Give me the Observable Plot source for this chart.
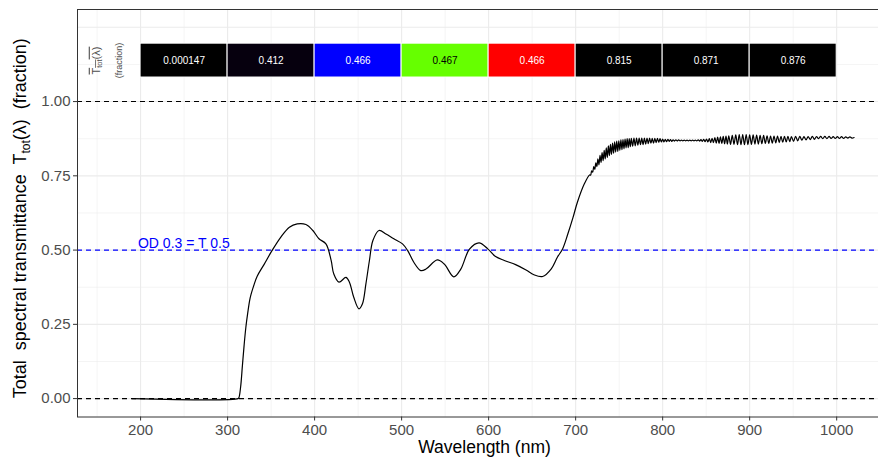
<!DOCTYPE html>
<html><head><meta charset="utf-8">
<script src="https://cdn.jsdelivr.net/npm/d3@7"></script>
<script src="https://cdn.jsdelivr.net/npm/@observablehq/plot@0.6"></script>
<style>
body{margin:0;background:#fff;overflow:hidden;}
svg{font-family:"Liberation Sans",Arial,Helvetica,sans-serif;}
</style></head><body><div id="chart"></div>
<script>
// ---- spectrum (smooth part) ----
const smoothWavelength = [190,312,313,315,317,319,321,323,326,330,
  334,342,351,361,371,380,390,398,405,413,
  419,422,428,436,440,445,451,455,459,463,
  467,474,482,491,501,507,514,522,528,541,
  549,560,568,578,589,599,608,618,631,643,
  652,662,672,679,685,691,697,702,710];
const smoothTransmittance = [0,0,0.003,0.04,0.11,0.18,0.24,0.285,0.34,0.38,
  0.412,0.452,0.498,0.543,0.577,0.588,0.586,0.566,0.538,0.521,
  0.465,0.42,0.392,0.408,0.392,0.341,0.302,0.319,0.387,0.465,
  0.532,0.566,0.554,0.538,0.521,0.498,0.459,0.431,0.436,0.467,
  0.453,0.41,0.436,0.503,0.524,0.504,0.478,0.465,0.451,0.433,
  0.417,0.411,0.437,0.476,0.504,0.554,0.61,0.661,0.723];
// ---- spectrum (interference-fringe part, read as alternating crests/troughs) ----
const rippleWavelength = [
  716,717.2,718.4,719.6,720.8,722,723.2,724.4,725.6,726.8,
  728,729.2,730.4,731.6,732.8,734,735.2,736.4,737.6,738.8,
  740,741.2,742.4,743.6,744.8,746,747.2,748.4,749.6,750.8,
  752,753.2,754.4,755.6,756.8,758,759.2,760.4,761.6,762.8,
  764,765.5,767,768.5,770,771.5,773,774.5,776,777.5,
  779,780.5,782,783.5,785,786.5,788,789.5,791,792.5,
  794,795.5,797,798.5,800,801.5,803,804.5,806,807.5,
  809,810.5,812,813.6,815.2,816.8,818.4,820,821.6,823.2,
  824.8,826.4,828,829.6,831.2,832.8,834.4,836,837.6,839.2,
  840.8,842.4,844,845.6,847.2,848.8,850.4,852,853.6,855.2,
  856.8,858.4,860,861.6,863.2,864.8,866.4,868,869.6,871.2,
  872.8,874.4,876,878,880,882,884,886,888,890,
  892,894,896,898,900,902,904,906,908,910,
  912,914,916,918,920,922,924,926,928,930,
  932,934,936,938,940,942,944,946,948,950.4,
  952.8,955.2,957.6,960,962.4,964.8,967.2,969.6,972,974.4,
  976.8,979.2,981.6,984,986.4,988.8,991.2,993.6,996,998.4,
  1000.8,1003.2,1005.6,1008,1010.4,1012.8,1015.2,1017.6,1020];
const rippleTransmittance = [
  .753,.752,.767,.762,.781,.772,.794,.781,.807,.787,
  .819,.795,.828,.801,.836,.807,.844,.812,.851,.818,
  .856,.822,.860,.826,.864,.830,.867,.832,.868,.836,
  .871,.838,.872,.841,.874,.844,.875,.845,.875,.848,
  .876,.850,.877,.851,.877,.853,.877,.855,.877,.855,
  .877,.857,.877,.858,.877,.860,.876,.860,.876,.862,
  .876,.863,.875,.864,.874,.864,.873,.865,.873,.866,
  .872,.866,.871,.867,.871,.867,.871,.868,.870,.868,
  .870,.868,.870,.868,.870,.868,.870,.868,.870,.868,
  .871,.867,.872,.866,.873,.865,.874,.864,.875,.862,
  .876,.862,.879,.860,.880,.859,.881,.859,.883,.858,
  .884,.857,.885,.856,.886,.856,.888,.855,.889,.855,
  .889,.855,.889,.855,.888,.856,.888,.857,.887,.857,
  .886,.858,.886,.859,.885,.859,.884,.860,.884,.861,
  .884,.862,.883,.863,.883,.864,.883,.865,.882,.866,
  .883,.868,.883,.870,.882,.871,.882,.872,.883,.873,
  .882,.875,.883,.875,.883,.875,.883,.876,.882,.876,
  .882,.876,.882,.876,.881,.877,.881,.877,.879];
// ---- waveband summaries ----
const bandStart = [200,300,400,500,600,700,800,900];
const bandEnd   = [300,400,500,600,700,800,900,1000];
const bandMean  = ["0.000147","0.412","0.466","0.467","0.466","0.815","0.871","0.876"];
const bandFill  = ["#000000","#06000E","#0000FF","#66FF00","#FF0000","#000000","#000000","#000000"];
const bandTextColor = ["#FFFFFF","#FFFFFF","#FFFFFF","#000000","#FFFFFF","#FFFFFF","#FFFFFF","#FFFFFF"];
// ---- axes / guides ----
const xTicks = [200,300,400,500,600,700,800,900,1000];
const xMinor = [150,250,350,450,550,650,750,850,950,1050];
const yTicks = [0,0.25,0.5,0.75,1];
const yGridExtra = [1.25];
const yMinor = [0.125,0.375,0.625,0.875,1.125];
const refLines = [0,1];
const odLine = [0.5];
const odLabel = ["OD 0.3 = T 0.5"];
const odLabelX = [197];
const bandLabelY = 1.138;
const bandKeyX = [149, 175];

const spectrum = smoothWavelength.map((w,i)=>({w, t: smoothTransmittance[i]}))
  .concat(rippleWavelength.map((w,i)=>({w, t: rippleTransmittance[i]})));
const bands = bandStart.map((s,i)=>({x1:s, x2:bandEnd[i], xm:(s+bandEnd[i])/2, label:bandMean[i], fill:bandFill[i], tc:bandTextColor[i]}));

const chart = Plot.plot({
  width: 878, height: 465,
  marginLeft: 77, marginRight: -13, marginTop: 9, marginBottom: 48.5,
  x: {domain: [127.5, 1063]},
  y: {domain: [-0.062, 1.31]},
  color: {type: "identity"},
  style: {fontFamily: "'Liberation Sans', Arial, sans-serif", fontSize: "15px", color: "#4D4D4D", background: "white", overflow: "hidden"},
  marks: [
    Plot.ruleX(xMinor, {stroke: "#EBEBEB", strokeWidth: 0.55}),
    Plot.ruleY(yMinor, {stroke: "#EBEBEB", strokeWidth: 0.55}),
    Plot.ruleX(xTicks, {stroke: "#EBEBEB", strokeWidth: 1.1}),
    Plot.ruleY(yTicks.concat(yGridExtra), {stroke: "#EBEBEB", strokeWidth: 1.1}),
    Plot.rect(bands, {x1: "x1", x2: "x2", y1: 1.081, y2: 1.195, fill: "fill", stroke: "white", strokeWidth: 1}),
    Plot.text(bands, {x: "xm", y: bandLabelY, text: "label", fill: "tc", fontSize: 10}),
    Plot.text(["T"], {x: bandKeyX[0], y: bandLabelY, rotate: -90, fontSize: 11, fill: "#4D4D4D", className: "tkey"}),
    Plot.text(["(fraction)"], {x: bandKeyX[1], y: bandLabelY, rotate: -90, fontSize: 9, fill: "#4D4D4D"}),
    Plot.ruleY(refLines, {stroke: "black", strokeDasharray: "5,4", strokeWidth: 1.1}),
    Plot.ruleY(odLine, {stroke: "blue", strokeDasharray: "5,4", strokeWidth: 1.1}),
    Plot.text(odLabel, {x: odLabelX, y: odLine, text: d => d, textAnchor: "start", lineAnchor: "bottom", dy: -2, fill: "blue", fontSize: 14}),
    Plot.line(spectrum, {x: "w", y: "t", curve: "catmull-rom", stroke: "black", strokeWidth: 1.2}),
    Plot.frame({stroke: "#333333", strokeWidth: 1}),
    Plot.axisX(xTicks, {tickSize: 4, tickPadding: 3, label: null, fontSize: 15, tickFormat: d3.format("d"), stroke: "#333333"}),
    Plot.axisY(yTicks, {tickSize: 4, tickPadding: 3, label: null, fontSize: 15, tickFormat: d3.format(".2f"), stroke: "#333333"}),
    Plot.text(["Wavelength (nm)"], {frameAnchor: "bottom", dy: 36, fontSize: 17.5, fill: "black"}),
    Plot.text(["Y"], {frameAnchor: "left", textAnchor: "middle", dx: -57, dy: 5, rotate: -90, fontSize: 18, fill: "black", className: "ylab"})
  ]
});
document.getElementById("chart").appendChild(chart);

const NS = "http://www.w3.org/2000/svg";
function rich(el, parts) {
  el.textContent = "";
  el.style.whiteSpace = "pre";
  parts.forEach(p => {
    const ts = document.createElementNS(NS, "tspan");
    ts.textContent = p.t;
    if (p.size) ts.setAttribute("font-size", p.size);
    if (p.dy) ts.setAttribute("dy", p.dy);
    el.appendChild(ts);
  });
}
d3.select(chart).selectAll("g.ylab text").each(function() {
  rich(this, [{t: "Total  spectral transmittance  T"}, {t: "tot", size: 12, dy: 4}, {t: "(λ)  (fraction)", size: 18, dy: -4}]);
});
d3.select(chart).selectAll("g.tkey text").each(function() {
  rich(this, [{t: "T"}, {t: "tot", size: 7.5, dy: 2.5}, {t: "(λ)", size: 11, dy: -2.5}]);
  this.style.textDecoration = "overline";
});
</script></body></html>
